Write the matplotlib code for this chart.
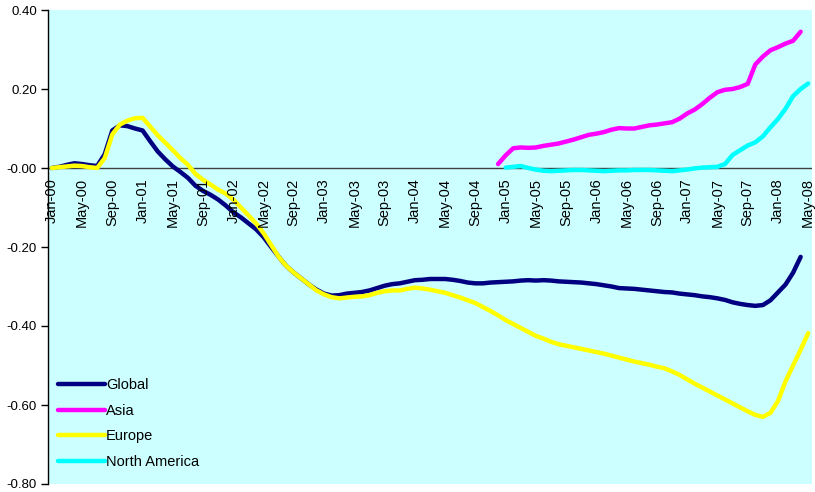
import numpy as np
import matplotlib
matplotlib.use("Agg")
import matplotlib.pyplot as plt

plt.rcParams['font.family'] = ['Liberation Sans', 'DejaVu Sans']

# monthly series, Jan-00 = month 0
global_vals = [0.000, 0.003, 0.008, 0.012, 0.010, 0.007, 0.005, 0.035, 0.095, 0.108,
               0.106, 0.100, 0.095, 0.068, 0.042, 0.022, 0.004, -0.010, -0.025, -0.045,
               -0.058, -0.068, -0.080, -0.095, -0.112, -0.125, -0.140, -0.155, -0.175, -0.200,
               -0.225, -0.248, -0.265, -0.280, -0.295, -0.308, -0.318, -0.323, -0.322, -0.318,
               -0.316, -0.314, -0.310, -0.304, -0.298, -0.294, -0.292, -0.288, -0.284, -0.283,
               -0.281, -0.281, -0.281, -0.283, -0.286, -0.290, -0.292, -0.292, -0.290, -0.289,
               -0.288, -0.287, -0.285, -0.284, -0.285, -0.284, -0.285, -0.287, -0.288, -0.289,
               -0.290, -0.292, -0.294, -0.297, -0.300, -0.304, -0.305, -0.306, -0.308, -0.310,
               -0.312, -0.314, -0.315, -0.318, -0.320, -0.322, -0.325, -0.327, -0.330, -0.334,
               -0.340, -0.344, -0.347, -0.349, -0.347, -0.335, -0.315, -0.295, -0.265, -0.225]

europe_vals = [0.000, 0.002, 0.004, 0.006, 0.005, 0.002, 0.000, 0.025, 0.085, 0.110,
               0.120, 0.126, 0.127, 0.105, 0.083, 0.064, 0.045, 0.025, 0.008, -0.015,
               -0.030, -0.042, -0.055, -0.065, -0.080, -0.100, -0.120, -0.140, -0.165, -0.195,
               -0.225, -0.248, -0.265, -0.280, -0.295, -0.310, -0.320, -0.327, -0.330, -0.328,
               -0.326, -0.325, -0.322, -0.316, -0.312, -0.310, -0.310, -0.306, -0.303, -0.305,
               -0.308, -0.312, -0.316, -0.322, -0.328, -0.335, -0.342, -0.352, -0.362, -0.373,
               -0.385, -0.395, -0.405, -0.415, -0.425, -0.432, -0.440, -0.446, -0.450, -0.454,
               -0.458, -0.462, -0.466, -0.470, -0.475, -0.480, -0.485, -0.490, -0.494, -0.498,
               -0.503, -0.507, -0.515, -0.524, -0.535, -0.546, -0.556, -0.566, -0.576, -0.586,
               -0.596, -0.606, -0.616, -0.625, -0.630, -0.620, -0.590, -0.540, -0.500, -0.460,
               -0.418]

asia_start = 59
asia_vals = [0.010, 0.032, 0.050, 0.052, 0.051, 0.052, 0.056, 0.059, 0.062, 0.067,
             0.072, 0.078, 0.084, 0.087, 0.091, 0.097, 0.101, 0.100, 0.100, 0.104,
             0.108, 0.110, 0.113, 0.116, 0.125, 0.138, 0.148, 0.162, 0.178, 0.192,
             0.198, 0.200, 0.205, 0.213, 0.262, 0.282, 0.298, 0.306, 0.315, 0.322,
             0.345]

na_start = 60
na_vals = [0.001, 0.003, 0.005, 0.000, -0.004, -0.007, -0.008, -0.007, -0.006, -0.005,
           -0.005, -0.006, -0.007, -0.008, -0.007, -0.006, -0.006, -0.005, -0.005, -0.005,
           -0.006, -0.007, -0.008, -0.006, -0.004, -0.001, 0.001, 0.002, 0.003, 0.010,
           0.033, 0.045, 0.057, 0.065, 0.080, 0.103, 0.124, 0.150, 0.182, 0.200,
           0.214]

tick_labels = ["Jan-00", "May-00", "Sep-00", "Jan-01", "May-01", "Sep-01", "Jan-02",
               "May-02", "Sep-02", "Jan-03", "May-03", "Sep-03", "Jan-04", "May-04",
               "Sep-04", "Jan-05", "May-05", "Sep-05", "Jan-06", "May-06", "Sep-06",
               "Jan-07", "May-07", "Sep-07", "Jan-08", "May-08"]

fig = plt.figure(figsize=(8.15, 4.92), dpi=100)
ax = fig.add_axes([48 / 815, 8 / 492, 764 / 815, 474 / 492])
ax.set_facecolor('#CCFFFF')

ax.plot(np.arange(len(global_vals)), global_vals, color='#000080', lw=3.2, label='Global',
        solid_capstyle='round')
ax.plot(np.arange(asia_start, asia_start + len(asia_vals)), asia_vals, color='#FF00FF', lw=3.2,
        label='Asia', solid_capstyle='round')
ax.plot(np.arange(len(europe_vals)), europe_vals, color='#FFFF00', lw=3.2, label='Europe',
        solid_capstyle='round')
ax.plot(np.arange(na_start, na_start + len(na_vals)), na_vals, color='#00FFFF', lw=3.2,
        label='North America', solid_capstyle='round')

ax.axhline(0, color='#404040', lw=1, zorder=1)

ax.set_xlim(-0.5, 100.5)
ax.set_ylim(-0.8, 0.4)
ax.set_yticks(np.arange(-0.8, 0.41, 0.2))
ax.set_yticklabels(["%.2f" % v for v in np.arange(-0.8, 0.41, 0.2)], fontsize=9.5)
ax.tick_params(axis='y', direction='out', length=5, width=1, pad=3)
ax.set_xticks([])

for s in ['top', 'right', 'bottom']:
    ax.spines[s].set_visible(False)
ax.spines['left'].set_linewidth(1)

for i, lab in enumerate(tick_labels):
    ax.text(i * 4, -0.026, lab, rotation=90, ha='center', va='top', fontsize=10.5)

ax.legend(loc='lower left', bbox_to_anchor=(-0.004, 0.004), frameon=False, fontsize=10.5,
          handlelength=3.2, handletextpad=0.1, labelspacing=0.8)

fig.savefig('out.png', dpi=100)
